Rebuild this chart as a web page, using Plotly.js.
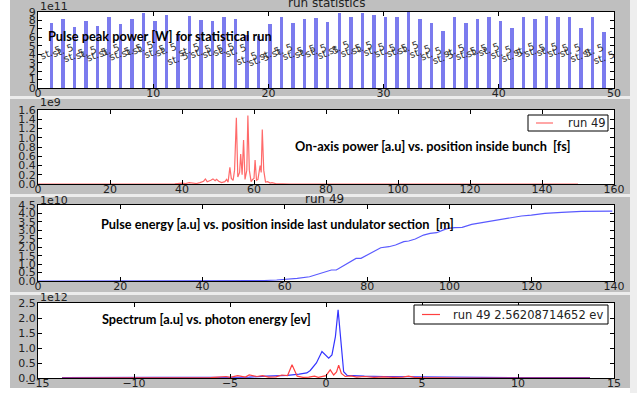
<!DOCTYPE html>
<html><head><meta charset="utf-8">
<script src="https://cdn.plot.ly/plotly-3.0.1.min.js"></script>
<style>html,body{margin:0;padding:0;background:#fff}#chart{width:637px;height:393px}</style>
</head><body><div id="chart"></div>
<script>
// ---------- Panel 1: run statistics (values in units of 1e11 W) ----------
const runIndex = [1,2,3,4,5,6,7,8,9,10,11,12,13,14,15,16,17,18,19,20,21,22,23,24,25,26,27,28,29,30,31,32,33,34,35,36,37,38,39,40,41,42,43,44,45,46,47,48,49];
const peakPower = [7.75,8.2,7.2,7.9,7.4,8.4,7.55,8.2,8.9,7.95,8.6,6.3,8.55,8.0,7.95,8.45,8.2,6.3,6.1,7.55,8.4,7.65,8.15,8.25,7.85,8.9,8.35,8.9,8.6,8.4,8.4,8.95,8.15,7.65,6.7,8.35,7.65,8.2,8.45,7.9,7.15,8.45,8.2,8.55,8.35,8.35,7.05,8.35,6.65];
const barLabel = "st. 5";

// ---------- Panel 2: on-axis power (units of 1e9) vs position [fs] ----------
const posFs = [0,10,20,30,38,40,41,42,43,44,45,46,46.5,47,48,48.6,49.2,49.6,50.2,51,51.9,52.4,52.8,53.3,53.7,54.2,54.6,55.1,55.5,56.0,56.3,56.7,57.1,57.5,58.0,58.3,58.7,59.2,59.6,60.0,60.3,60.7,61.1,61.7,62.0,62.3,62.7,63.2,63.8,64.5,65,66,70,80,100,120,140,150];
const onAxisPower = [0,0,0,0,0.005,0.02,0.01,0.03,0.02,0.01,0.03,0.06,0.11,0.05,0.08,0.11,0.07,0.10,0.06,0.03,0.05,0.10,0.04,0.36,0.12,0.08,0.30,1.43,0.15,0.25,0.65,0.2,0.95,0.1,0.3,1.48,0.3,0.05,0.1,0.12,0.52,0.08,0.1,0.40,0.25,1.18,0.3,0.04,0.05,0.02,0.03,0.01,0,0,0,0,0,0];

// ---------- Panel 3: pulse energy (units of 1e10) vs position [m] ----------
const posM = [0,10,20,30,40,50,55,58,60.3,63,66,68.5,71.3,72.5,74.9,77.3,78.5,80.5,83.3,85.3,86.9,88.9,90.1,91.7,93.7,95.3,96.9,98.9,99.7,101.3,103.1,105.4,107.8,109.8,112.3,115.1,117.5,119.9,123.2,127.3,132.1,139.6];
const pulseEnergy = [0,0,0,0,0,0.01,0.03,0.06,0.1,0.16,0.25,0.45,0.65,0.65,1.0,1.34,1.34,1.6,1.97,2.03,2.13,2.33,2.37,2.49,2.72,2.82,2.86,3.06,3.12,3.16,3.18,3.35,3.45,3.49,3.61,3.71,3.85,3.9,4.0,4.06,4.12,4.14];

// ---------- Panel 4: spectrum (units of 1e12) vs photon energy [eV] ----------
const evBlue = [-13.75,-10,-7,-5,-4,-3.1,-2.5,-2,-1.4,-1.0,-0.82,-0.5,-0.21,-0.05,0.14,0.31,0.49,0.63,0.75,0.84,0.92,1.1,1.5,2,3,4.5,6,8,10,13.75];
const spectrumBlue = [0.01,0.01,0.01,0.02,0.03,0.06,0.07,0.09,0.13,0.17,0.25,0.5,0.88,0.78,0.66,0.77,1.38,2.27,1.49,0.71,0.21,0.09,0.07,0.06,0.05,0.04,0.02,0.01,0.01,0.01];
const evRed = [-13.75,-10,-8,-6,-5.2,-5,-4.6,-4.2,-4,-3.6,-3.3,-3,-2.6,-2.3,-2.0,-1.77,-1.5,-1.2,-0.9,-0.6,-0.4,-0.2,0,0.22,0.4,0.55,0.66,0.8,1.0,1.3,1.6,2,2.5,3,3.5,4,4.3,4.6,5,7,10,13.75];
const spectrumRed = [0,0,0.01,0.01,0.05,0.02,0.08,0.03,0.1,0.05,0.08,0.03,0.04,0.1,0.08,0.44,0.06,0.02,0.03,0.06,0.02,0.05,0.08,0.27,0.1,0.2,0.43,0.15,0.05,0.07,0.03,0.05,0.02,0.04,0.02,0.03,0.06,0.02,0.01,0,0,0];

const legendRun = "run 49";
const legendSpectrum = "run 49 2.56208714652 ev";

const W = 637, H = 393;
const px = v => v / W;
const py = v => 1 - v / H;
const tickFont = {family: "DejaVu Sans", size: 11, color: "#222"};
const noteFont = {family: "Lato", size: 12.75, color: "#000", weight: 700};
const redPale = "#ff6a6a";
const redSpec = "#ff4040";

function xa(range, dtick, dom) {
  return {range: range, dtick: dtick, tick0: range[0], domain: dom, showgrid: false, zeroline: false,
    showline: true, linecolor: "#000", linewidth: 1, mirror: "ticks", ticks: "inside", ticklen: 4,
    tickcolor: "#000", tickfont: tickFont, fixedrange: true, automargin: false, ticklabelstandoff: -5};
}
function ya(range, dtick, dom, fmt) {
  return {range: range, dtick: dtick, tick0: 0, domain: dom, showgrid: false, zeroline: false,
    showline: true, linecolor: "#000", linewidth: 1, mirror: "ticks", ticks: "inside", ticklen: 4,
    tickcolor: "#000", tickfont: tickFont, tickformat: fmt, fixedrange: true, automargin: false, ticklabelstandoff: -1};
}
const xDom = [px(38), px(614)];

const traces = [
  {type: "bar", x: runIndex, y: peakPower, width: 0.3, offset: 0, marker: {color: "#7b7bee", line: {width: 0}},
   xaxis: "x", yaxis: "y", showlegend: false, hoverinfo: "none"},
  {type: "scatter", mode: "lines", x: posFs, y: onAxisPower, line: {color: redPale, width: 1.2},
   xaxis: "x2", yaxis: "y2", name: legendRun, showlegend: false},
  {type: "scatter", mode: "lines", x: posM, y: pulseEnergy, line: {color: "rgba(0,0,255,0.65)", width: 1.2},
   xaxis: "x3", yaxis: "y3", showlegend: false},
  {type: "scatter", mode: "lines", x: evBlue, y: spectrumBlue, line: {color: "rgba(0,0,255,0.8)", width: 1.2},
   xaxis: "x4", yaxis: "y4", showlegend: false},
  {type: "scatter", mode: "lines", x: evRed, y: spectrumRed, line: {color: redSpec, width: 1.2},
   xaxis: "x4", yaxis: "y4", name: legendSpectrum, showlegend: false}
];

const annotations = [];
// bar labels
for (let i = 0; i < runIndex.length; i++) {
  annotations.push({xref: "x", yref: "y", x: runIndex[i] + 0.15, y: peakPower[i] / 2 + 0.3, text: barLabel,
    showarrow: false, textangle: -20, font: {family: "DejaVu Sans", size: 10, color: "#333"}});
}
// exponent labels
const expo = [["1e11", 6], ["1e9", 103], ["1e10", 200], ["1e12", 297]];
expo.forEach(e => annotations.push({xref: "paper", yref: "paper", x: px(38), y: py(e[1]), xanchor: "left", yanchor: "middle",
  text: e[0], showarrow: false, font: {family: "DejaVu Sans", size: 11, color: "#222"}}));
// titles
annotations.push({xref: "paper", yref: "paper", x: px(326), y: py(3), xanchor: "center", yanchor: "middle",
  text: "run statistics", showarrow: false, font: {family: "DejaVu Sans", size: 12, color: "#222"}});
annotations.push({xref: "paper", yref: "paper", x: px(324), y: py(198.5), xanchor: "center", yanchor: "middle",
  text: "run 49", showarrow: false, font: {family: "DejaVu Sans", size: 12, color: "#222"}});
// bold descriptions
const notes = [["Pulse peak power [W] for statistical run", 46, 36],
  ["On-axis power [a.u] vs. position inside bunch  [fs]", 293, 146],
  ["Pulse energy [a.u] vs. position inside last undulator section  [m]", 99, 224],
  ["Spectrum [a.u] vs. photon energy [ev]", 100, 319]];
notes.forEach(n => annotations.push({xref: "paper", yref: "paper", x: px(n[1]), y: py(n[2]), xanchor: "left", yanchor: "middle",
  text: n[0], showarrow: false, font: noteFont}));

const shapes = [];
const strip = (y0, y1, col) => ({type: "rect", xref: "paper", yref: "paper", x0: 0, x1: 1, y0: py(y1), y1: py(y0),
  fillcolor: col || "#ececec", line: {width: 0}, layer: "below"});
shapes.push(strip(96, 99), strip(194, 197), strip(292, 295), strip(388, 393, "#ffffff"),
  {type: "rect", xref: "paper", yref: "paper", x0: 0, x1: px(10), y0: 0, y1: 1, fillcolor: "#ffffff", line: {width: 0}, layer: "below"},
  {type: "rect", xref: "paper", yref: "paper", x0: px(630), x1: 1, y0: 0, y1: 1, fillcolor: "#eeeeee", line: {width: 0}, layer: "below"});

// legends (matplotlib style boxes): box, sample line, label
function addLegend(label, color, box, lineX0, lineX1, textX) {
  const yMid = (box[2] + box[3]) / 2;
  shapes.push({type: "rect", xref: "paper", yref: "paper", x0: px(box[0]), x1: px(box[1]), y0: py(box[3]), y1: py(box[2]),
    fillcolor: "#ffffff", line: {color: "#000", width: 1}, layer: "above"});
  shapes.push({type: "line", xref: "paper", yref: "paper", x0: px(lineX0), x1: px(lineX1), y0: py(yMid), y1: py(yMid),
    line: {color: color, width: 1.2}, layer: "above"});
  annotations.push({xref: "paper", yref: "paper", x: px(textX), y: py(yMid), xanchor: "left", yanchor: "middle",
    showarrow: false, text: label, font: {family: "DejaVu Sans", size: 11.5, color: "#222"}});
}
addLegend(legendRun, redPale, [528, 608, 115, 131], 536, 553, 566);
addLegend(legendSpectrum, redSpec, [414, 608, 305, 324], 422, 440, 451);

const layout = {
  width: W, height: H, margin: {l: 0, r: 0, t: 0, b: 0},
  paper_bgcolor: "#bfbfbf", plot_bgcolor: "#ffffff", showlegend: false, bargap: 0,
  xaxis: xa([0, 50], 10, xDom), yaxis: ya([0, 9], 1, [py(88), py(12)], "d"),
  xaxis2: Object.assign(xa([0, 160], 20, xDom), {anchor: "y2"}), yaxis2: Object.assign(ya([0, 1.6], 0.2, [py(184), py(110)], ".1f"), {anchor: "x2"}),
  xaxis3: Object.assign(xa([0, 140], 20, xDom), {anchor: "y3"}), yaxis3: Object.assign(ya([0, 4.5], 0.5, [py(281), py(205)], ".1f"), {anchor: "x3"}),
  xaxis4: Object.assign(xa([-15, 15], 5, xDom), {anchor: "y4"}), yaxis4: Object.assign(ya([0, 2.5], 0.5, [py(378), py(303)], ".1f"), {anchor: "x4"}),
  annotations: annotations, shapes: shapes
};
Plotly.newPlot("chart", traces, layout, {staticPlot: true, displayModeBar: false});
</script></body></html>
